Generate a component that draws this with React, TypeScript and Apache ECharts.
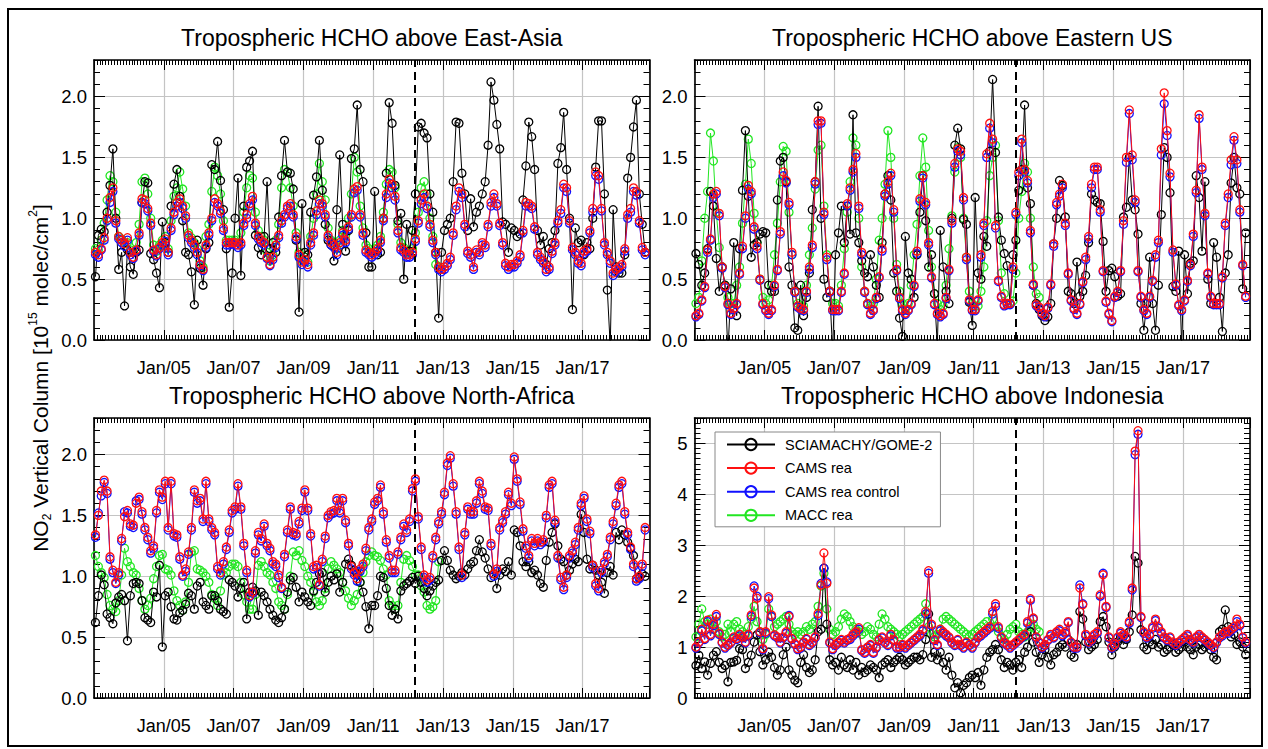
import React, { useEffect, useRef } from 'react';
import * as echarts from 'echarts';

// ---------------- data ----------------
const SERIES_NAMES = ['SCIAMACHY/GOME-2', 'CAMS rea', 'CAMS rea control', 'MACC rea'];
const START_YEAR = 2003;
const SWITCH_DATE = 2012.2; // SCIAMACHY -> GOME-2
const X_LABEL_YEARS = [2005, 2007, 2009, 2011, 2013, 2015, 2017];

// East Asia
const EA_SG = [
  0.52,0.86,0.91,0.89,1.05,1.27,1.57,1.00,0.58,0.72,0.28,0.74,
  0.60,0.54,0.72,0.74,1.13,1.30,1.29,0.71,0.66,0.55,0.43,0.97,
  0.80,0.72,1.10,1.28,1.40,1.18,0.98,0.72,0.70,0.56,0.29,0.82,
  0.59,0.45,0.75,0.80,1.44,1.40,1.63,1.31,1.07,0.75,0.27,0.55,
  1.00,1.33,0.53,1.10,1.42,1.47,1.55,0.86,0.76,0.70,0.85,1.30,
  0.75,0.80,0.72,1.01,1.35,1.64,1.38,1.37,1.24,0.82,0.23,1.12,
  0.72,0.70,1.05,1.19,1.34,1.64,1.23,0.95,0.82,0.78,0.65,1.07,
  1.52,0.95,0.73,0.90,1.49,1.57,1.93,1.40,1.30,0.88,0.60,0.60,
  1.22,0.70,0.72,1.00,1.37,1.95,1.78,1.27,0.98,1.04,0.50,0.95,
  0.73,0.90,1.20,1.75,1.78,1.70,1.66,1.20,1.05,0.72,0.18,0.72,
  0.90,0.95,1.00,1.30,1.79,1.78,1.37,1.20,0.90,1.16,0.93,1.05,
  1.10,1.20,1.30,1.60,2.12,1.97,1.77,1.57,0.97,0.95,0.72,0.92,
  0.90,0.85,0.87,1.15,1.43,1.79,1.67,1.40,0.90,0.78,0.85,0.62,
  0.75,0.80,0.90,1.45,1.58,1.87,1.40,1.00,0.25,0.92,0.80,0.82,
  0.70,0.80,0.75,1.00,1.42,1.80,1.80,1.20,0.41,-0.05,1.07,0.60,
  0.55,0.55,0.70,1.33,1.50,1.75,1.97,1.20,0.95,0.72,
];
const EA_CAMS = [
  0.72,0.70,0.75,0.84,1.00,1.17,1.25,0.98,0.85,0.82,0.79,0.84,
  0.72,0.68,0.74,0.88,1.16,1.15,1.08,0.96,0.74,0.70,0.76,0.80,
  0.83,0.72,0.92,1.05,1.13,1.16,1.10,1.02,0.86,0.82,0.78,0.72,
  0.62,0.58,0.78,0.88,1.00,1.16,1.12,1.06,0.92,0.80,0.80,0.80,
  0.80,0.78,0.80,0.96,1.03,1.12,1.18,0.96,0.85,0.82,0.80,0.68,
  0.62,0.68,0.78,0.86,0.98,1.03,1.10,1.12,1.03,0.85,0.70,0.64,
  0.66,0.62,0.80,0.88,1.06,1.15,1.12,1.03,0.86,0.80,0.78,0.72,
  0.80,0.88,0.82,0.93,1.03,1.24,1.26,1.03,0.88,0.74,0.72,0.70,
  0.72,0.75,0.82,1.00,1.20,1.32,1.28,1.18,0.90,0.76,0.74,0.70,
  0.70,0.72,0.83,0.98,1.15,1.20,1.10,0.95,0.82,0.72,0.60,0.58,
  0.60,0.63,0.68,0.88,1.10,1.25,1.20,0.95,0.73,0.70,0.60,0.74,
  0.72,0.80,0.78,0.95,1.13,1.20,1.12,0.96,0.80,0.63,0.60,0.62,
  0.62,0.65,0.70,0.90,1.13,1.12,1.10,0.93,0.72,0.68,0.65,0.58,
  0.60,0.73,0.80,0.98,1.07,1.28,1.25,0.98,0.76,0.72,0.65,0.63,
  0.73,0.75,0.90,1.08,1.38,1.35,1.08,0.80,0.72,0.65,0.55,0.58,
  0.60,0.62,0.75,1.03,1.08,1.25,1.22,0.98,0.76,0.72,
];
const EA_CTRL = [
  0.70,0.68,0.74,0.82,0.98,1.13,1.22,0.96,0.83,0.80,0.77,0.82,
  0.70,0.67,0.73,0.86,1.13,1.12,1.06,0.94,0.73,0.69,0.75,0.78,
  0.81,0.70,0.90,1.03,1.10,1.13,1.08,1.00,0.84,0.80,0.76,0.70,
  0.61,0.57,0.76,0.86,0.98,1.13,1.10,1.04,0.90,0.78,0.78,0.79,
  0.78,0.76,0.78,0.94,1.00,1.10,1.15,0.94,0.83,0.80,0.78,0.67,
  0.61,0.66,0.76,0.84,0.96,1.01,1.08,1.10,1.01,0.83,0.68,0.62,
  0.64,0.60,0.78,0.86,1.03,1.12,1.10,1.01,0.84,0.78,0.76,0.70,
  0.78,0.86,0.80,0.91,1.01,1.21,1.23,1.01,0.86,0.72,0.70,0.68,
  0.70,0.73,0.80,0.98,1.17,1.29,1.25,1.15,0.88,0.74,0.72,0.68,
  0.68,0.70,0.81,0.96,1.12,1.17,1.08,0.93,0.80,0.70,0.58,0.56,
  0.58,0.61,0.66,0.86,1.07,1.22,1.17,0.93,0.71,0.68,0.58,0.72,
  0.70,0.78,0.76,0.93,1.10,1.17,1.10,0.94,0.78,0.61,0.58,0.60,
  0.60,0.63,0.68,0.88,1.10,1.10,1.08,0.91,0.70,0.66,0.63,0.56,
  0.58,0.71,0.78,0.96,1.04,1.25,1.22,0.96,0.74,0.70,0.63,0.61,
  0.71,0.73,0.88,1.05,1.35,1.32,1.06,0.78,0.70,0.63,0.53,0.56,
  0.58,0.60,0.73,1.00,1.05,1.22,1.19,0.96,0.74,0.70,
];
const EA_MACC = [
  0.75,0.74,0.82,0.96,1.15,1.35,1.30,1.05,0.85,0.83,0.80,0.80,
  0.74,0.72,0.80,0.95,1.30,1.33,1.20,1.00,0.78,0.73,0.78,0.82,
  0.85,0.75,0.98,1.18,1.25,1.38,1.24,1.10,0.88,0.84,0.80,0.75,
  0.65,0.60,0.85,0.95,1.22,1.42,1.35,1.20,0.98,0.82,0.82,0.82,
  0.82,0.80,0.88,1.05,1.25,1.35,1.33,1.05,0.90,0.85,0.82,0.72,
  0.65,0.70,0.82,0.95,1.25,1.40,1.38,1.25,1.10,0.88,0.72,0.66,
  0.68,0.64,0.85,1.00,1.20,1.45,1.30,1.15,0.92,0.82,0.80,0.75,
  0.82,0.90,0.86,1.00,1.20,1.50,1.38,1.10,0.92,0.78,0.75,0.72,
  0.75,0.78,0.85,1.05,1.28,1.40,1.38,1.25,0.95,0.80,0.76,0.72,
  0.72,0.75,0.88,1.05,1.25,1.30,1.20,1.00,0.85,0.62,0.60,
];

// Eastern US
const US_SG = [
  0.71,0.62,0.45,0.55,0.75,1.22,1.10,0.67,0.40,0.60,0.45,-0.10,
  0.42,0.80,0.20,0.75,1.23,1.72,1.18,0.68,0.78,0.80,0.87,0.89,
  0.88,0.45,0.40,0.40,1.15,1.47,1.50,1.30,0.60,0.45,0.10,0.08,
  0.45,0.20,0.35,0.55,1.07,1.30,1.92,1.00,0.50,0.35,0.40,-0.10,
  0.70,0.88,1.10,0.80,1.10,0.87,1.85,0.88,0.80,0.65,0.55,0.52,
  0.70,0.60,0.45,0.35,0.80,1.20,1.35,1.15,0.55,0.40,0.18,0.03,
  0.85,0.55,0.50,0.35,0.70,1.05,1.35,0.98,0.60,0.70,0.38,-0.05,
  0.90,0.60,0.40,0.30,1.00,1.60,1.74,1.57,0.99,0.95,0.31,0.12,
  1.17,0.55,0.50,0.85,0.77,1.55,2.14,1.54,1.01,0.82,0.71,0.61,
  0.30,0.70,0.82,1.23,1.40,1.93,1.25,1.12,0.45,0.30,0.25,0.20,
  0.16,0.19,0.30,0.79,1.00,1.31,1.27,1.01,0.40,0.38,0.30,0.64,
  0.36,0.40,0.53,0.80,1.20,1.15,1.13,1.12,0.81,0.40,0.57,0.59,
  0.52,0.36,0.38,1.01,1.09,1.50,1.15,1.07,0.87,0.30,0.08,0.30,
  0.68,0.30,0.08,0.45,1.03,1.58,1.50,1.21,0.44,0.40,0.73,-0.05,
  0.70,0.38,0.63,0.65,1.35,1.17,0.73,1.30,0.50,0.30,0.80,0.68,
  0.35,0.07,0.55,0.70,1.29,1.50,1.25,1.20,0.42,0.88,
];
const US_CAMS = [
  0.20,0.22,0.33,0.44,0.74,0.83,1.20,1.22,1.04,0.60,0.44,0.30,
  0.22,0.26,0.30,0.55,0.77,1.02,1.27,1.22,0.93,0.77,0.50,0.30,
  0.25,0.22,0.25,0.45,0.58,0.89,1.38,1.31,1.13,0.72,0.40,0.28,
  0.26,0.25,0.40,0.60,0.78,1.30,1.80,1.80,1.05,0.68,0.40,0.25,
  0.25,0.25,0.40,0.55,1.12,1.25,1.40,1.53,1.10,0.72,0.40,0.30,
  0.22,0.25,0.35,0.52,0.75,1.20,1.30,1.37,1.07,0.58,0.35,0.25,
  0.22,0.25,0.30,0.45,0.73,1.16,1.35,1.13,0.80,0.52,0.30,0.22,
  0.20,0.22,0.35,0.58,0.98,1.45,1.57,1.55,1.17,0.68,0.33,0.25,
  0.25,0.33,0.70,0.96,1.53,1.78,1.65,0.94,0.49,0.36,0.29,0.30,
  0.30,0.60,1.05,1.38,1.65,1.40,1.31,0.90,0.46,0.29,0.27,0.22,
  0.20,0.27,0.46,0.79,1.13,1.20,1.28,0.96,0.55,0.33,0.26,0.22,
  0.30,0.48,0.68,0.85,1.28,1.42,1.42,1.07,0.57,0.32,0.22,0.16,
  0.36,0.40,0.57,0.98,1.50,1.89,1.52,1.15,0.57,0.36,0.25,0.22,
  0.36,0.49,0.70,0.82,1.57,2.03,1.72,1.37,0.74,0.46,0.29,0.25,
  0.33,0.49,0.62,0.87,1.23,1.85,1.42,1.04,0.55,0.36,0.30,0.30,
  0.30,0.52,0.96,1.20,1.48,1.67,1.48,1.07,0.62,0.36,
];
const US_CTRL = [
  0.19,0.21,0.32,0.43,0.72,0.82,1.17,1.20,1.02,0.59,0.43,0.29,
  0.21,0.25,0.29,0.54,0.75,1.00,1.24,1.20,0.91,0.75,0.49,0.29,
  0.24,0.21,0.24,0.44,0.57,0.87,1.35,1.29,1.11,0.70,0.39,0.27,
  0.25,0.24,0.39,0.58,0.76,1.28,1.77,1.78,1.03,0.66,0.39,0.24,
  0.24,0.24,0.39,0.54,1.10,1.23,1.38,1.50,1.08,0.70,0.39,0.29,
  0.21,0.24,0.34,0.51,0.73,1.18,1.28,1.35,1.05,0.57,0.34,0.24,
  0.21,0.24,0.29,0.44,0.71,1.14,1.33,1.11,0.78,0.51,0.29,0.21,
  0.19,0.21,0.34,0.57,0.96,1.42,1.55,1.52,1.15,0.66,0.32,0.24,
  0.24,0.32,0.68,0.94,1.50,1.74,1.62,0.92,0.48,0.35,0.28,0.29,
  0.29,0.58,1.03,1.35,1.62,1.38,1.29,0.88,0.45,0.28,0.26,0.21,
  0.19,0.26,0.45,0.77,1.11,1.18,1.25,0.94,0.54,0.32,0.25,0.21,
  0.29,0.47,0.66,0.83,1.25,1.40,1.40,1.05,0.56,0.31,0.21,0.15,
  0.35,0.39,0.56,0.95,1.46,1.86,1.48,1.13,0.56,0.35,0.24,0.21,
  0.35,0.48,0.68,0.80,1.52,1.94,1.68,1.34,0.72,0.45,0.28,0.24,
  0.32,0.48,0.61,0.85,1.21,1.82,1.40,1.02,0.54,0.35,0.29,0.29,
  0.29,0.51,0.94,1.17,1.44,1.64,1.45,1.05,0.61,0.35,
];
const US_MACC = [
  0.30,0.35,0.65,1.00,1.22,1.70,1.47,1.05,0.76,0.60,0.45,0.35,
  0.30,0.30,0.45,0.60,0.96,1.28,1.65,1.45,1.04,0.80,0.50,0.35,
  0.30,0.33,0.45,0.70,0.96,1.30,1.59,1.55,1.05,0.70,0.40,0.30,
  0.28,0.28,0.45,0.70,0.92,1.24,1.56,1.60,1.10,0.70,0.40,0.30,
  0.30,0.28,0.45,0.75,1.05,1.30,1.66,1.60,1.00,0.60,0.40,0.30,
  0.28,0.30,0.50,0.82,1.00,1.28,1.72,1.50,1.00,0.62,0.40,0.30,
  0.25,0.30,0.45,0.70,0.95,1.35,1.66,1.42,0.90,0.60,0.38,0.30,
  0.25,0.28,0.45,0.75,1.02,1.38,1.58,1.50,1.00,0.68,0.40,0.30,
  0.25,0.28,0.40,0.60,0.98,1.35,1.50,1.60,0.98,0.55,0.38,0.30,
  0.30,0.32,0.55,1.00,1.22,1.45,1.38,1.00,0.60,0.38,0.35,
];

// North Africa
const NA_SG = [
  0.62,0.84,1.01,0.93,0.69,0.66,0.61,0.78,0.83,0.85,0.80,0.47,
  0.84,0.94,0.95,0.94,0.80,0.66,0.64,0.62,0.87,0.83,1.09,0.42,
  0.84,0.87,0.75,0.65,0.64,0.70,0.72,0.77,0.86,0.84,0.73,0.92,
  0.95,0.79,0.76,0.73,0.84,0.84,0.80,0.73,0.71,0.69,0.97,0.95,
  0.92,0.83,0.90,0.95,0.65,0.87,0.91,0.88,0.68,0.87,0.84,0.79,
  0.73,0.68,0.64,0.62,0.66,0.73,0.87,0.97,0.99,0.91,0.79,0.87,
  0.83,0.79,0.76,0.88,0.95,1.02,1.03,0.87,0.95,1.00,0.97,1.02,
  0.87,0.95,1.10,1.14,1.09,1.05,1.02,0.95,0.87,0.75,0.57,0.76,
  0.76,0.84,1.00,0.99,0.90,0.76,0.68,0.73,0.65,0.88,0.92,0.94,
  0.96,0.99,0.94,1.00,0.95,0.90,0.84,0.88,0.92,0.95,0.97,1.13,
  1.21,1.13,1.05,1.01,0.98,1.00,1.03,1.01,1.06,1.10,1.12,1.21,
  1.30,1.20,1.15,1.06,0.99,1.02,0.90,1.01,1.06,1.04,1.12,1.01,
  1.38,1.36,1.25,1.12,1.08,1.12,1.03,1.05,1.01,0.94,0.91,1.13,
  1.28,1.36,1.43,1.25,1.14,1.12,1.01,1.05,1.10,1.14,1.12,1.51,
  1.36,1.14,1.06,1.09,1.05,1.01,0.95,0.86,1.03,1.08,1.01,1.36,
  1.30,1.38,1.34,1.28,1.23,1.17,0.98,0.99,1.02,1.00,
];
const NA_CAMS = [
  1.34,1.50,1.70,1.79,1.70,1.16,1.05,0.95,1.03,1.31,1.49,1.54,
  1.43,1.42,1.60,1.65,1.53,1.40,1.32,1.21,1.25,1.54,1.71,1.65,
  1.78,1.40,1.78,1.35,1.34,1.16,1.01,1.06,1.20,1.40,1.71,1.62,
  1.64,1.47,1.78,1.47,1.40,1.36,1.08,1.03,1.12,1.24,1.38,1.54,
  1.57,1.76,1.57,1.27,1.05,0.84,0.87,1.21,1.36,1.31,1.43,1.27,
  1.23,1.12,1.10,1.01,0.91,1.18,1.38,1.57,1.36,1.35,1.45,1.56,
  1.71,1.56,1.35,1.08,1.09,0.93,1.14,1.33,1.50,1.53,1.54,1.64,
  1.54,1.64,1.46,1.27,1.08,1.03,0.98,1.06,1.10,1.23,1.40,1.47,
  1.61,1.64,1.75,1.53,1.30,1.17,1.05,1.05,1.20,1.32,1.43,1.38,
  1.47,1.72,1.80,1.49,1.24,1.01,0.97,0.99,1.17,1.32,1.45,1.53,
  1.69,1.93,1.99,1.76,1.53,1.24,1.01,1.36,1.57,1.53,1.53,1.62,
  1.78,1.70,1.57,1.56,1.27,1.02,1.06,1.40,1.46,1.53,1.69,1.60,
  1.98,1.80,1.61,1.39,1.25,1.17,1.31,1.27,1.31,1.28,1.30,1.50,
  1.75,1.78,1.46,1.17,0.99,0.91,1.01,1.17,1.21,1.28,1.40,1.60,
  1.66,1.47,1.37,1.09,0.94,0.90,1.05,1.12,1.18,1.32,1.45,1.60,
  1.75,1.78,1.53,1.36,1.24,1.10,0.98,1.00,1.10,1.40,
];
const NA_CTRL = [
  1.32,1.52,1.66,1.77,1.68,1.14,1.03,0.94,1.01,1.29,1.53,1.52,
  1.41,1.40,1.62,1.63,1.51,1.38,1.30,1.19,1.23,1.52,1.69,1.63,
  1.76,1.38,1.76,1.33,1.32,1.14,1.00,1.04,1.18,1.38,1.69,1.60,
  1.62,1.45,1.76,1.45,1.38,1.34,1.06,1.01,1.10,1.22,1.36,1.52,
  1.55,1.74,1.55,1.25,1.03,0.83,0.86,1.19,1.34,1.29,1.41,1.25,
  1.21,1.10,1.08,0.99,0.90,1.16,1.36,1.55,1.34,1.33,1.43,1.54,
  1.69,1.54,1.33,1.06,1.07,0.92,1.12,1.31,1.48,1.51,1.52,1.62,
  1.52,1.62,1.44,1.25,1.06,1.01,0.96,1.04,1.08,1.21,1.38,1.45,
  1.59,1.62,1.73,1.51,1.28,1.15,1.03,1.03,1.18,1.30,1.41,1.36,
  1.45,1.70,1.78,1.47,1.22,0.99,0.95,0.97,1.15,1.30,1.43,1.51,
  1.67,1.91,1.97,1.74,1.51,1.22,0.99,1.34,1.55,1.51,1.51,1.60,
  1.76,1.68,1.55,1.54,1.25,1.00,1.04,1.38,1.44,1.51,1.67,1.58,
  1.96,1.78,1.59,1.37,1.23,1.15,1.29,1.25,1.29,1.26,1.28,1.48,
  1.73,1.76,1.44,1.15,0.97,0.89,0.99,1.15,1.19,1.26,1.38,1.58,
  1.64,1.45,1.35,1.07,0.92,0.88,1.03,1.10,1.16,1.30,1.43,1.58,
  1.73,1.76,1.51,1.34,1.22,1.08,0.96,0.98,1.08,1.38,
];
const NA_MACC = [
  1.17,1.08,1.03,0.99,0.85,0.76,0.73,0.71,0.80,1.01,1.23,1.12,
  1.08,1.03,1.01,0.90,0.80,0.73,0.76,0.82,0.98,1.08,1.17,1.18,
  1.06,1.05,1.01,0.88,0.80,0.76,0.72,0.79,0.95,1.20,1.21,1.06,
  1.05,1.03,1.00,0.95,0.85,0.82,0.76,0.88,1.01,1.03,1.08,1.10,
  1.10,1.08,0.95,0.85,0.79,0.73,0.73,0.85,1.09,1.12,1.08,1.03,
  1.01,0.95,0.90,0.79,0.76,0.73,0.85,1.00,1.20,1.17,1.21,1.13,
  1.08,1.00,0.95,0.87,0.79,0.76,0.80,0.90,1.06,1.12,1.09,1.06,
  1.03,0.95,0.88,0.82,0.76,0.80,0.85,0.95,1.03,1.12,1.17,1.20,
  1.17,1.16,1.13,1.06,1.01,0.80,0.76,0.73,0.76,0.95,1.14,1.17,
  1.13,1.08,1.01,1.01,0.92,0.87,0.76,0.73,0.75,0.80,1.12,
];

// Indonesia
const ID_SG = [
  0.64,0.84,0.58,0.71,0.45,0.68,0.84,0.91,0.70,0.58,0.64,0.32,
  0.70,0.71,0.74,0.97,0.95,0.58,0.70,0.84,1.10,1.24,0.91,0.65,
  0.75,0.90,0.80,0.60,0.45,0.55,0.85,1.00,0.55,0.45,0.35,0.30,
  0.70,0.85,0.60,0.50,0.55,0.75,1.30,1.35,2.55,1.45,0.75,0.65,
  0.70,0.55,0.80,0.65,0.60,0.75,0.55,0.70,0.45,0.60,0.50,0.55,
  0.65,0.60,0.55,0.40,0.65,0.70,0.75,0.60,0.70,0.75,0.80,0.75,
  0.65,0.70,0.75,0.80,0.80,0.75,0.85,1.15,1.65,0.80,0.90,0.75,
  0.90,0.70,0.55,0.80,0.45,0.20,0.30,0.10,0.25,0.30,0.40,0.45,
  0.40,0.50,0.25,0.55,0.80,0.90,0.95,1.05,0.95,0.75,0.60,0.70,
  0.65,0.55,0.70,0.75,0.60,0.90,1.00,1.30,1.10,0.90,0.70,0.85,
  0.95,0.80,0.65,0.85,0.90,1.00,1.05,1.00,1.15,0.85,0.80,1.05,
  1.70,1.55,1.10,0.95,1.00,1.05,1.15,1.50,1.60,1.40,1.10,0.85,
  1.00,1.10,1.20,1.05,1.15,1.30,1.63,2.78,2.65,1.34,1.00,0.95,
  1.10,1.05,1.15,1.00,1.05,0.90,0.95,1.00,1.05,0.90,0.95,1.00,
  1.10,1.00,0.95,0.85,1.00,1.05,0.95,1.00,1.05,0.95,0.80,0.75,
  1.30,1.35,1.73,1.40,1.20,1.25,1.05,1.10,1.00,0.85,
];
const ID_CAMS = [
  1.00,1.10,1.35,1.17,1.53,1.25,1.45,1.64,1.27,1.10,1.00,1.05,
  1.10,1.20,1.17,1.25,1.20,1.10,1.25,1.63,2.16,1.96,1.30,0.97,
  1.30,1.99,1.63,1.24,1.20,1.10,1.20,1.30,1.60,1.17,1.07,0.97,
  1.00,1.10,1.17,1.05,1.10,1.20,1.66,2.22,2.85,2.25,1.10,0.97,
  1.05,1.10,1.15,1.10,1.15,1.18,1.25,1.30,1.38,0.95,0.90,1.00,
  1.05,0.90,1.00,1.15,1.20,1.10,1.05,1.25,1.15,1.00,1.00,1.05,
  1.00,1.05,1.10,1.15,1.20,1.25,1.35,1.70,2.50,1.45,1.15,1.05,
  1.35,1.30,1.25,1.20,1.10,1.05,1.15,1.05,1.00,1.10,1.05,1.00,
  1.10,1.20,1.25,1.30,1.35,1.40,1.70,1.85,1.40,1.20,1.10,1.05,
  1.00,1.05,1.10,1.15,1.20,1.25,1.50,1.95,1.57,1.20,1.10,1.00,
  1.05,1.15,1.25,1.20,1.30,1.35,1.25,1.30,1.50,1.10,1.00,1.00,
  2.16,1.83,1.25,1.10,1.15,1.25,1.30,2.03,2.42,1.80,1.20,1.00,
  1.05,1.20,1.30,1.25,1.20,1.50,2.16,4.85,5.25,1.60,1.30,1.20,
  1.25,1.40,1.55,1.40,1.30,1.20,1.15,1.20,1.10,1.05,1.10,1.15,
  1.20,1.25,1.15,1.10,1.20,1.25,1.20,1.15,1.10,1.05,1.00,1.10,
  1.20,1.25,1.30,1.30,1.35,1.40,1.55,1.45,1.20,1.10,
];
const ID_CTRL = [
  0.98,1.08,1.32,1.15,1.50,1.22,1.42,1.60,1.25,1.08,0.98,1.03,
  1.08,1.18,1.15,1.22,1.18,1.08,1.22,1.60,2.20,2.00,1.28,0.95,
  1.27,1.95,1.60,1.22,1.18,1.08,1.18,1.27,1.62,1.15,1.05,0.95,
  0.98,1.08,1.15,1.03,1.08,1.18,1.62,2.25,2.55,2.28,1.08,0.95,
  1.03,1.08,1.13,1.08,1.13,1.15,1.22,1.27,1.35,0.93,0.88,0.98,
  1.03,0.88,0.98,1.13,1.18,1.08,1.03,1.22,1.13,0.98,0.98,1.03,
  0.98,1.03,1.08,1.13,1.18,1.22,1.32,1.65,2.45,1.42,1.13,1.03,
  1.32,1.27,1.22,1.18,1.08,1.03,1.13,1.03,0.98,1.08,1.03,0.98,
  1.08,1.18,1.22,1.27,1.32,1.37,1.65,1.80,1.37,1.18,1.08,1.03,
  0.98,1.03,1.08,1.13,1.18,1.22,1.47,1.92,1.55,1.18,1.08,0.98,
  1.03,1.13,1.22,1.18,1.27,1.32,1.22,1.27,1.48,1.08,0.98,0.98,
  2.22,1.85,1.22,1.08,1.13,1.22,1.27,2.00,2.45,1.78,1.18,0.98,
  1.03,1.18,1.27,1.22,1.18,1.47,2.12,4.78,5.18,1.58,1.27,1.18,
  1.22,1.37,1.52,1.37,1.27,1.18,1.13,1.18,1.08,1.03,1.08,1.13,
  1.18,1.22,1.13,1.08,1.18,1.22,1.18,1.13,1.08,1.03,0.98,1.08,
  1.18,1.22,1.27,1.27,1.32,1.37,1.50,1.42,1.18,1.08,
];
const ID_MACC = [
  1.20,1.45,1.75,1.50,1.45,1.55,1.35,1.50,1.30,1.20,1.25,1.45,
  1.30,1.45,1.50,1.35,1.30,1.25,1.40,1.55,1.80,1.50,1.30,1.15,
  1.25,1.75,1.60,1.40,1.45,1.50,1.55,1.60,1.45,1.30,1.25,1.30,
  1.25,1.30,1.40,1.35,1.45,1.50,1.80,2.20,2.45,1.75,1.35,1.25,
  1.30,1.40,1.55,1.65,1.60,1.50,1.40,1.35,1.30,1.25,1.30,1.40,
  1.35,1.25,1.20,1.45,1.65,1.55,1.40,1.35,1.30,1.25,1.20,1.25,
  1.30,1.35,1.40,1.45,1.50,1.55,1.60,1.85,1.40,1.25,1.20,1.25,
  1.35,1.55,1.60,1.55,1.50,1.45,1.40,1.35,1.30,1.25,1.20,1.25,
  1.30,1.35,1.40,1.45,1.50,1.40,1.55,1.40,1.30,1.20,1.15,1.25,
  1.35,1.40,1.45,1.30,1.25,1.20,1.30,1.40,1.45,1.35,1.30,
];

const PANELS = [
  { title: 'Tropospheric HCHO above East-Asia', sg: EA_SG, cams: EA_CAMS, ctrl: EA_CTRL, macc: EA_MACC, yMax: 2.3, yStep: 0.5, yMinor: 0.1, dec: 1 },
  { title: 'Tropospheric HCHO above Eastern US', sg: US_SG, cams: US_CAMS, ctrl: US_CTRL, macc: US_MACC, yMax: 2.3, yStep: 0.5, yMinor: 0.1, dec: 1 },
  { title: 'Tropospheric HCHO above North-Africa', sg: NA_SG, cams: NA_CAMS, ctrl: NA_CTRL, macc: NA_MACC, yMax: 2.3, yStep: 0.5, yMinor: 0.1, dec: 1 },
  { title: 'Tropospheric HCHO above Indonesia', sg: ID_SG, cams: ID_CAMS, ctrl: ID_CTRL, macc: ID_MACC, yMax: 5.5, yStep: 1, yMinor: 0.1, dec: 0 },
];

// ---------------- layout / style ----------------
const FONT = "'Liberation Sans', Arial, Helvetica, sans-serif";
const GRID_POS = [[94, 60], [694.5, 60], [94, 418], [694.5, 418]];
const GRID_W = 555.5;
const GRID_H = 280;
const X_MAX = START_YEAR + 191 / 12;
const COLORS = { sg: '#000000', cams: '#ff1010', ctrl: '#1010ff', macc: '#22e622' };
const GRIDLINE = '#c4c4c4';

const toXY = (arr: number[]) => arr.map((v, i) => [START_YEAR + (i + 0.5) / 12, v]);

function xLabel(v: number) {
  const r = Math.round(v);
  if (Math.abs(v - r) > 1e-6 || X_LABEL_YEARS.indexOf(r) < 0) return '';
  return 'Jan/' + String(r).slice(2);
}

function buildOption() {
  const grid: any[] = [];
  const xAxis: any[] = [];
  const yAxis: any[] = [];
  const series: any[] = [];
  const graphic: any[] = [];
  const axisLineStyle = { color: '#000', width: 1.6 };

  PANELS.forEach((p, g) => {
    const [left, top] = GRID_POS[g];
    grid.push({ left, top, width: GRID_W, height: GRID_H, show: false });

    const xBase = { type: 'value', gridIndex: g, min: START_YEAR, max: X_MAX, interval: 2 };
    const xTicks = {
      axisTick: { show: true, inside: true, length: 10, lineStyle: { color: '#000', width: 1 } },
      minorTick: { show: true, splitNumber: 24, length: 5, lineStyle: { color: '#000', width: 1 } },
    };
    xAxis.push({
      ...xBase, position: 'bottom',
      axisLine: { show: true, onZero: false, lineStyle: axisLineStyle },
      ...xTicks,
      axisLabel: { show: true, margin: 19, fontSize: 18, fontFamily: FONT, color: '#000', formatter: xLabel },
      splitLine: { show: true, lineStyle: { color: GRIDLINE, width: 1.2 } },
    });
    xAxis.push({
      ...xBase, position: 'top',
      axisLine: { show: true, onZero: false, lineStyle: axisLineStyle },
      ...xTicks,
      axisLabel: { show: false }, splitLine: { show: false },
    });

    const yFmt = (v: number) => {
      const k = v / p.yStep;
      if (Math.abs(k - Math.round(k)) > 1e-6) return '';
      return v.toFixed(p.dec);
    };
    const yBase = { type: 'value', gridIndex: g, min: 0, max: p.yMax };
    yAxis.push({
      ...yBase, position: 'left', interval: p.yStep,
      axisLine: { show: true, onZero: false, lineStyle: axisLineStyle },
      axisTick: { show: true, inside: true, length: 11, lineStyle: { color: '#000', width: 1 } },
      axisLabel: { show: true, margin: 7, fontSize: 18.5, fontFamily: FONT, color: '#000', formatter: yFmt },
      splitLine: { show: true, lineStyle: { color: GRIDLINE, width: 1.2 } },
    });
    yAxis.push({
      ...yBase, position: 'right', interval: p.yStep,
      axisLine: { show: true, onZero: false, lineStyle: axisLineStyle },
      axisTick: { show: true, inside: true, length: 11, lineStyle: { color: '#000', width: 1 } },
      axisLabel: { show: false }, splitLine: { show: false },
    });
    ['left', 'right'].forEach((pos) => {
      yAxis.push({
        ...yBase, position: pos, interval: p.yMinor,
        axisLine: { show: false },
        axisTick: { show: true, inside: true, length: 6, lineStyle: { color: '#000', width: 1 } },
        axisLabel: { show: false }, splitLine: { show: false },
      });
    });

    const common = {
      type: 'line', xAxisIndex: 2 * g, yAxisIndex: 4 * g,
      symbol: 'circle', symbolSize: 8, showSymbol: true, clip: true,
      emphasis: { disabled: true }, silent: true,
    };
    const mk = (name: string, arr: number[], color: string, z: number, extra: any = {}) => ({
      ...common, name, z, data: toXY(arr),
      itemStyle: { color: 'rgba(255,255,255,0)', borderColor: color, borderWidth: 1.3 },
      lineStyle: { color, width: 1 },
      ...extra,
    });
    series.push(mk(SERIES_NAMES[3], p.macc, COLORS.macc, 2));
    series.push(mk(SERIES_NAMES[0], p.sg, COLORS.sg, 3, {
      markLine: {
        silent: true, symbol: ['none', 'none'], label: { show: false },
        lineStyle: { color: '#000', width: 2, type: [8, 5] },
        data: [{ xAxis: SWITCH_DATE }],
      },
    }));
    series.push(mk(SERIES_NAMES[2], p.ctrl, COLORS.ctrl, 4));
    series.push(mk(SERIES_NAMES[1], p.cams, COLORS.cams, 5));

    graphic.push({
      type: 'text', x: left + GRID_W / 2, y: top - 22, silent: true,
      style: { text: p.title, fontSize: 23, fontFamily: FONT, fill: '#000', align: 'center', verticalAlign: 'middle', textAlign: 'center', textVerticalAlign: 'middle' },
    });
  });

  // y-axis title (spans both rows)
  graphic.push({
    type: 'text', x: 40, y: 378, rotation: Math.PI / 2, silent: true,
    style: {
      text: '{n|NO}{sub|2}{n| Vertical Column [10}{sup|15}{n| molec/cm}{sup|2}{n|]}',
      align: 'center', verticalAlign: 'middle', textAlign: 'center', textVerticalAlign: 'middle',
      fill: '#000',
      rich: {
        n: { fontSize: 21, fontFamily: FONT, lineHeight: 26, fill: '#000', color: '#000' },
        sub: { fontSize: 12, fontFamily: FONT, lineHeight: 12, verticalAlign: 'bottom', fill: '#000', color: '#000' },
        sup: { fontSize: 12, fontFamily: FONT, lineHeight: 12, verticalAlign: 'top', fill: '#000', color: '#000' },
      },
    },
  });

  // outer frame
  graphic.push({
    type: 'rect', silent: true, z: 100,
    shape: { x: 8, y: 9, width: 1254, height: 737 },
    style: { fill: 'none', stroke: '#000', lineWidth: 2 },
  });

  return {
    animation: false,
    backgroundColor: '#fff',
    grid, xAxis, yAxis, series, graphic,
    legend: {
      show: true, data: SERIES_NAMES, orient: 'vertical', left: 715, top: 432,
      itemWidth: 48, itemHeight: 14, itemGap: 8.6, padding: [5, 8, 4, 11],
      borderColor: '#888', borderWidth: 1, backgroundColor: '#fff',
      selectedMode: false,
      textStyle: { fontSize: 14.5, fontFamily: FONT, color: '#000', padding: [0, 0, 0, 5] },
    },
  };
}

export default function App() {
  const ref = useRef<HTMLDivElement>(null);
  useEffect(() => {
    if (!ref.current) return;
    const chart = echarts.init(ref.current, null, { renderer: 'svg' });
    chart.setOption(buildOption() as any);
    return () => chart.dispose();
  }, []);
  return (
    <div
      ref={ref}
      style={{ position: 'absolute', left: 0, top: 0, width: 1268, height: 749, background: '#fff' }}
    />
  );
}
